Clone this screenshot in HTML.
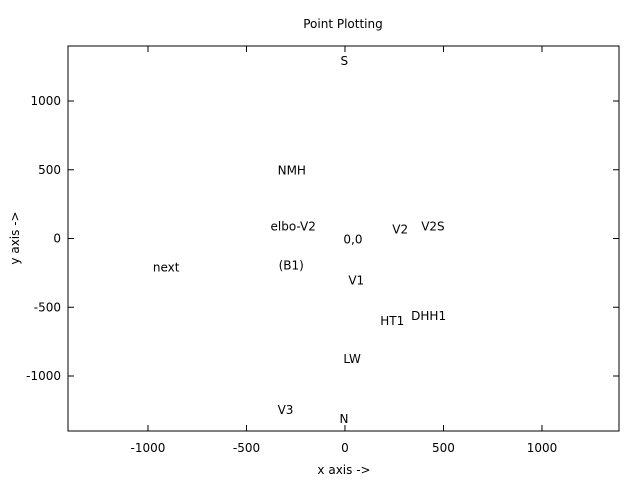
<!DOCTYPE html>
<html><head><meta charset="utf-8"><style>
html,body{margin:0;padding:0;background:#fff;}
svg{display:block;font-family:"DejaVu Sans","Liberation Sans",sans-serif;font-size:12px;}
</style></head><body>
<svg id="chart" width="640" height="480">
<text x="343" y="28" text-anchor="middle">Point Plotting</text>
<rect x="68" y="46" width="551" height="385" fill="none" stroke="#000" stroke-width="1"/>
<g id="ticks"></g>
<g id="labels"></g>
<text x="344" y="474" text-anchor="middle">x axis -&gt;</text>
<text transform="translate(19,238) rotate(-90)" text-anchor="middle">y axis -&gt;</text>
</svg>
<script>
const xTicks=[-1000,-500,0,500,1000];
const yTicks=[-1000,-500,0,500,1000];
const labelNames=["S","NMH","elbo-V2","V2","V2S","0,0","next","(B1)","V1","HT1","DHH1","LW","V3","N"];
const labelX=[-23,-342,-378,240,387,-8,-975,-337,17,179,336,-8,-342,-28];
const labelY=[1290,493,87,65,87,-7,-210,-196,-304,-601,-565,-877,-1246,-1312];
const L=68,R=619,T=46,B=431,XMIN=-1406,XMAX=1391,YMIN=-1400,YMAX=1400;
const sx=v=>L+(v-XMIN)/(XMAX-XMIN)*(R-L);
const sy=v=>B-(v-YMIN)/(YMAX-YMIN)*(B-T);
const NS="http://www.w3.org/2000/svg";
const tg=document.getElementById('ticks'),lg=document.getElementById('labels');
function line(x1,y1,x2,y2){const l=document.createElementNS(NS,'line');l.setAttribute('x1',x1);l.setAttribute('y1',y1);l.setAttribute('x2',x2);l.setAttribute('y2',y2);l.setAttribute('stroke','#000');tg.appendChild(l);return l;}
function text(x,y,s,anchor,parent){const t=document.createElementNS(NS,'text');t.setAttribute('x',x);t.setAttribute('y',y);t.setAttribute('text-anchor',anchor);t.textContent=s;parent.appendChild(t);return t;}
xTicks.forEach(v=>{const x=sx(v);
 let a=line(x,B,x,B-6);
 let b=line(x,T,x,T+6);
 const t=text(x,452,String(v),'middle',tg);
 
 });
yTicks.forEach(v=>{const y=sy(v);
 let a=line(L,y,L+6,y);
 let b=line(R,y,R-6,y);
 const t=text(61,y+4,String(v),'end',tg);
 
 });
labelNames.forEach((n,i)=>{
 const t=text(sx(labelX[i]),sy(labelY[i])+4,n,'start',lg);
 
 });
</script>
</body></html>
